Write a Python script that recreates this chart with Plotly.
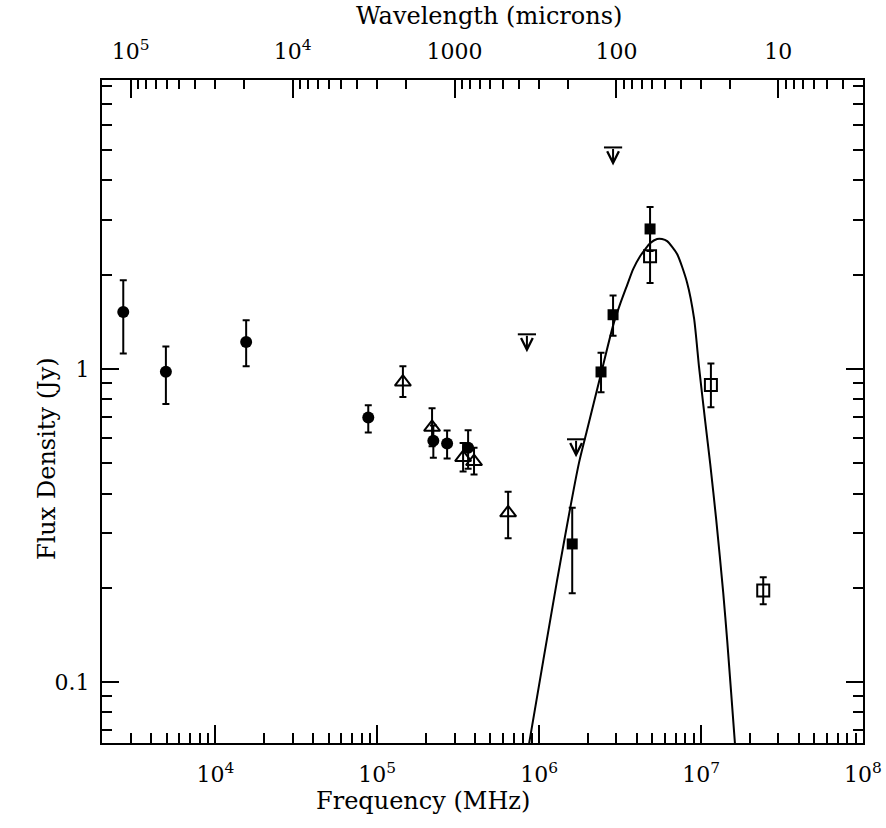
import numpy as np
import plotly.graph_objects as go

# ---------------- data ----------------
# filled circles
circ_nu = [2.7e3, 4.95e3, 1.55e4, 8.8e4, 2.22e5, 2.7e5, 3.64e5]
circ_s  = [1.52, 0.98, 1.22, 0.70, 0.59, 0.578, 0.56]
circ_hi = [1.92, 1.18, 1.43, 0.766, 0.66, 0.636, 0.637]
circ_lo = [1.12, 0.772, 1.02, 0.627, 0.52, 0.517, 0.48]

# open triangles
tri_nu = [1.44e5, 2.18e5, 3.39e5, 3.96e5, 6.43e5]
tri_s  = [0.908, 0.651, 0.521, 0.506, 0.347]
tri_hi = [1.02, 0.749, 0.58, 0.56, 0.405]
tri_lo = [0.813, 0.566, 0.47, 0.46, 0.288]

# filled squares
fsq_nu = [1.6e6, 2.41e6, 2.86e6, 4.84e6]
fsq_s  = [0.276, 0.978, 1.49, 2.80]
fsq_hi = [0.36, 1.126, 1.717, 3.29]
fsq_lo = [0.192, 0.843, 1.277, 2.38]

# open squares
osq_nu = [4.84e6, 1.15e7, 2.42e7]
osq_s  = [2.29, 0.888, 0.196]
osq_hi = [2.75, 1.04, 0.216]
osq_lo = [1.88, 0.755, 0.177]

# upper limits
ul_nu = [8.4e5, 1.69e6, 2.86e6]
ul_s  = [1.29, 0.596, 5.1]

# fitted curve
fit_nu = [8.26e5, 8.65e5, 1.29e6, 1.76e6, 1.98e6, 2.38e6, 2.86e6, 3.16e6, 3.49e6,
          3.80e6, 4.20e6, 4.51e6, 4.84e6, 5.35e6, 5.74e6, 6.17e6, 7.11e6,
          8.19e6, 9.05e6, 9.71e6, 1.06e7, 1.14e7, 1.24e7, 1.37e7, 1.45e7,
          1.62e7, 1.655e7]
fit_s  = [0.055, 0.0632, 0.211, 0.50, 0.64, 0.94, 1.375, 1.61, 1.85,
          2.08, 2.29, 2.41, 2.52, 2.60, 2.60, 2.56, 2.33,
          1.89, 1.45, 1.015, 0.681, 0.495, 0.330, 0.193, 0.1355,
          0.0632, 0.055]

# axes
x_range_log = [3.3, 8.0]
y_range_log = [-1.195, 0.923]
x_tickvals = [1e4, 1e5, 1e6, 1e7, 1e8]
x_ticktext = ["10<sup>4</sup>", "10<sup>5</sup>", "10<sup>6</sup>", "10<sup>7</sup>", "10<sup>8</sup>"]
y_tickvals = [0.1, 1]
y_ticktext = ["0.1", "1"]
wl_tickvals = [1e5, 1e4, 1000, 100, 10]
wl_ticktext = ["10<sup>5</sup>", "10<sup>4</sup>", "1000", "100", "10"]
c_um_mhz = 3e8  # lambda[um] = c / nu[MHz]

FONT = "DejaVu Serif"
BLACK = "black"

def minor_vals(lo_dec, hi_dec):
    return [m * 10.0 ** d for d in range(lo_dec, hi_dec) for m in range(2, 10)]

def err(s, hi, lo):
    return dict(type="data", symmetric=False,
                array=[h - v for h, v in zip(hi, s)],
                arrayminus=[v - l for v, l in zip(s, lo)],
                color=BLACK, thickness=2, width=3.5)

fig = go.Figure()

fig.add_trace(go.Scatter(x=fit_nu, y=fit_s, mode="lines",
                         line=dict(color=BLACK, width=2, shape="spline", smoothing=0.6),
                         showlegend=False, hoverinfo="skip"))

fig.add_trace(go.Scatter(x=circ_nu, y=circ_s, mode="markers",
                         marker=dict(symbol="circle", size=12, color=BLACK),
                         error_y=err(circ_s, circ_hi, circ_lo), showlegend=False))

fig.add_trace(go.Scatter(x=tri_nu, y=tri_s, mode="markers",
                         marker=dict(symbol="triangle-up-open", size=14, color=BLACK,
                                     line=dict(width=2, color=BLACK)),
                         error_y=err(tri_s, tri_hi, tri_lo), showlegend=False))

fig.add_trace(go.Scatter(x=fsq_nu, y=fsq_s, mode="markers",
                         marker=dict(symbol="square", size=11, color=BLACK),
                         error_y=err(fsq_s, fsq_hi, fsq_lo), showlegend=False))

fig.add_trace(go.Scatter(x=osq_nu, y=osq_s, mode="markers",
                         marker=dict(symbol="square-open", size=12, color=BLACK,
                                     line=dict(width=2, color=BLACK)),
                         error_y=err(osq_s, osq_hi, osq_lo), showlegend=False))

fig.add_trace(go.Scatter(x=ul_nu, y=ul_s, mode="markers",
                         marker=dict(symbol="line-ew", size=13, color=BLACK,
                                     line=dict(width=2, color=BLACK)),
                         showlegend=False))

# dummy trace so the wavelength axis subplot exists
fig.add_trace(go.Scatter(x=wl_tickvals, y=[None] * len(wl_tickvals), xaxis="x2",
                         mode="markers", showlegend=False, hoverinfo="skip"))

annotations = []
for nu, s in zip(ul_nu, ul_s):
    annotations.append(dict(x=np.log10(nu), y=np.log10(s), xref="x", yref="y",
                            text="", showarrow=True, ax=0, ay=-18, yshift=-18,
                            arrowhead=5, arrowsize=1.15, arrowwidth=2,
                            arrowcolor=BLACK))

annotations += [
    dict(text="Frequency (MHz)", xref="paper", yref="paper",
         x=(423 - 102) / 761, y=0, yshift=-58, xanchor="center", yanchor="middle",
         showarrow=False, font=dict(family=FONT, size=24, color=BLACK)),
    dict(text="Wavelength (microns)", xref="paper", yref="paper",
         x=(489 - 102) / 761, y=1, yshift=64, xanchor="center", yanchor="middle",
         showarrow=False, font=dict(family=FONT, size=24, color=BLACK)),
    dict(text="Flux Density (Jy)", xref="paper", yref="paper",
         x=0, xshift=-55, y=(743 - 459) / 663, textangle=-90,
         xanchor="center", yanchor="middle",
         showarrow=False, font=dict(family=FONT, size=24, color=BLACK)),
]

axis_common = dict(showgrid=False, zeroline=False, showline=True, linecolor=BLACK,
                   linewidth=2, ticks="inside", tickcolor=BLACK, tickwidth=2,
                   automargin=False,
                   tickfont=dict(family=FONT, size=22, color=BLACK))

lc = np.log10(c_um_mhz)
fig.update_layout(
    width=886, height=828,
    margin=dict(l=102, r=23, t=80, b=85),
    paper_bgcolor="white", plot_bgcolor="white",
    xaxis=dict(type="log", range=x_range_log, tickmode="array",
               tickvals=x_tickvals, ticktext=x_ticktext, ticklen=18,
               minor=dict(tickmode="array", tickvals=minor_vals(3, 8),
                          ticks="inside", ticklen=10, tickwidth=1.5, tickcolor=BLACK),
               ticklabelstandoff=11, **axis_common),
    xaxis2=dict(type="log", overlaying="x", side="top", anchor="y",
                range=[lc - x_range_log[0], lc - x_range_log[1]],
                tickmode="array", tickvals=wl_tickvals, ticktext=wl_ticktext,
                ticklen=18,
                minor=dict(tickmode="array", tickvals=minor_vals(0, 6),
                           ticks="inside", ticklen=9, tickwidth=1.5, tickcolor=BLACK),
                ticklabelstandoff=10, **axis_common),
    yaxis=dict(type="log", range=y_range_log, tickmode="array",
               tickvals=y_tickvals, ticktext=y_ticktext, ticklen=17,
               mirror="ticks",
               minor=dict(tickmode="array", tickvals=minor_vals(-2, 1),
                          ticks="inside", ticklen=10, tickwidth=1.5, tickcolor=BLACK),
               ticklabelstandoff=6, **axis_common),
    annotations=annotations,
)

fig.write_html("out.html", config={"displayModeBar": False},
               post_script="document.body.style.margin='0px';")
